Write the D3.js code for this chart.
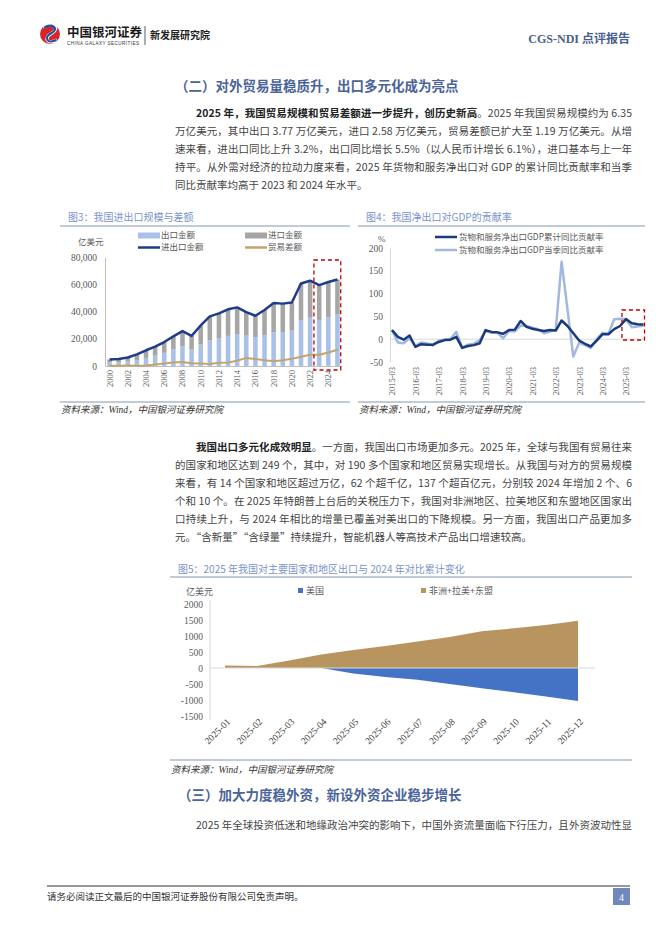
<!DOCTYPE html>
<html><head><meta charset="utf-8">
<script src="https://cdn.jsdelivr.net/npm/d3@7"></script>
<style>
body{margin:0;background:#fff;}
svg{display:block;}
text{font-family:"Liberation Serif","Noto Sans CJK SC",serif;}
</style></head><body>
<svg id="page" width="662" height="936"></svg>
<script>
// ---------- Figure 3 data (亿美元) ----------
const years = ["2000","2001","2002","2003","2004","2005","2006","2007","2008","2009","2010","2011","2012","2013","2014","2015","2016","2017","2018","2019","2020","2021","2022","2023","2024","2025"];
const exportsV = [2492,2661,3256,4382,5933,7620,9689,12200,14307,12016,15778,18984,20487,22090,23423,22735,20976,22633,24867,24995,25900,33630,35445,33800,35772,37700];
const importsV = [2251,2436,2952,4128,5612,6600,7915,9561,11326,10059,13962,17435,18184,19500,19592,16796,15879,18438,21357,20784,20660,26875,27160,25568,25851,25800];
const totalV = [4743,5097,6208,8510,11545,14220,17604,21761,25633,22075,29740,36419,38671,41590,43015,39531,36855,41071,46224,45779,46560,60505,62605,59368,61623,63500];
const balanceV = [241,225,304,254,321,1020,1774,2639,2981,1957,1816,1549,2303,2590,3831,5939,5097,4195,3510,4211,5240,6755,8285,8232,9921,11900];
const yTicks1 = [0,20000,40000,60000,80000];
const xTicks1 = ["2000","2002","2004","2006","2008","2010","2012","2014","2016","2018","2020","2022","2024"];

// ---------- Figure 4 data (%) ----------
const quarters = ["2015-03","2015-06","2015-09","2015-12","2016-03","2016-06","2016-09","2016-12","2017-03","2017-06","2017-09","2017-12","2018-03","2018-06","2018-09","2018-12","2019-03","2019-06","2019-09","2019-12","2020-03","2020-06","2020-09","2020-12","2021-03","2021-06","2021-09","2021-12","2022-03","2022-06","2022-09","2022-12","2023-03","2023-06","2023-09","2023-12","2024-03","2024-06","2024-09","2024-12","2025-03","2025-06","2025-09","2025-12"];
const cumContrib = [20,5,-1,8,-17,-11,-12,-12,-6,-2,-1,5,-19,-15,-13,-9,20,16,15,12,20,21,40,27,23,20,18,20,19,41,29,13,-3,-10,-16,-3,11,11,22,29,44,35,33,32];
const qtrContrib = [20,-7,-9,2,-15,-7,-9,-14,-3,-1,1,16,-18,-12,-10,-2,18,14,15,2,18,17,30,29,25,22,13,17,20,170,66,-38,-8,-13,-19,0,14,12,44,45,44,26,28,30];
const yTicks2 = [-50,0,50,100,150,200];
const xTicks2 = ["2015-03","2016-03","2017-03","2018-03","2019-03","2020-03","2021-03","2022-03","2023-03","2024-03","2025-03"];

// ---------- Figure 5 data (亿美元) ----------
const months = ["2025-01","2025-02","2025-03","2025-04","2025-05","2025-06","2025-07","2025-08","2025-09","2025-10","2025-11","2025-12"];
const usaChange = [0,0,0,0,-175,-285,-370,-500,-630,-760,-890,-1030];
const otherChange = [75,60,235,420,560,690,830,970,1150,1240,1340,1480];
const yTicks5 = [-1500,-1000,-500,0,500,1000,1500,2000];

// ---------- Page ----------
const svg = d3.select("#page");
const CJK = '"Noto Sans CJK SC","Liberation Serif",sans-serif';
const plain = d => String(d);

// header logo
const logo = svg.append("g");
logo.append("circle").attr("cx",50).attr("cy",34).attr("r",10).attr("fill","#d6262c");
logo.append("path").attr("d","M43,27 C52,22 61,28 52,33 C43,38 47,45 57,40").attr("fill","none").attr("stroke","#fff").attr("stroke-width",3.2);
logo.append("path").attr("d","M44,27.5 C52,23 60,28.5 51.5,33 C43,37.5 47,44 56.5,40").attr("fill","none").attr("stroke","#1d4f9e").attr("stroke-width",2);
svg.append("text").attr("x",67).attr("y",37).attr("font-size",12.5).attr("font-weight","bold").attr("fill","#1a1a1a").style("font-family",CJK).text("中国银河证券");
svg.append("text").attr("x",67).attr("y",44.5).attr("font-size",4.6).attr("fill","#333").style("font-family","Liberation Sans").attr("textLength",72).text("CHINA GALAXY SECURITIES");
svg.append("line").attr("x1",145).attr("x2",145).attr("y1",26).attr("y2",45).attr("stroke","#333").attr("stroke-width",0.8);
svg.append("text").attr("x",150).attr("y",39).attr("font-size",10).attr("font-weight","bold").attr("fill","#222").style("font-family",CJK).text("新发展研究院");
svg.append("text").attr("x",630).attr("y",43).attr("text-anchor","end").attr("font-size",12).attr("font-weight","bold").attr("fill","#4a5f8e").text("CGS-NDI 点评报告");

// text helpers
function heading(x, y, t) {
  svg.append("text").attr("x",x).attr("y",y).attr("font-size",13.5).attr("font-weight","bold").attr("fill","#4a6399").style("font-family",CJK).text(t);
}
function textLine(x0, x1, y, parts, justify) {
  const fs = 10.5;
  const nodes = parts.map(p => {
    const t = svg.append("text").attr("y",y).attr("font-size",fs)
      .attr("font-weight", p.b ? "bold" : "normal")
      .attr("fill", p.b ? "#222" : "#444").style("font-family",CJK).text(p.t);
    return {t, w: t.node().getComputedTextLength(), n: [...p.t].length};
  });
  const totalW = d3.sum(nodes, d => d.w), totalN = d3.sum(nodes, d => d.n);
  const ls = justify ? (x1 - x0 - totalW) / (totalN - 1) : 0;
  let x = x0;
  nodes.forEach(d => {
    d.t.attr("x", x).attr("letter-spacing", ls);
    x += d.w + d.n * ls;
  });
}
const L = 175, R = 632, IND = 196;

heading(175, 91, "（二）对外贸易量稳质升，出口多元化成为亮点");
textLine(IND, R, 117, [{t:"2025 年，我国贸易规模和贸易差额进一步提升，创历史新高",b:true},{t:"。2025 年我国贸易规模约为 6.35"}], true);
textLine(L, R, 135, [{t:"万亿美元，其中出口 3.77 万亿美元，进口 2.58 万亿美元，贸易差额已扩大至 1.19 万亿美元。从增"}], true);
textLine(L, R, 153, [{t:"速来看，进出口同比上升 3.2%，出口同比增长 5.5%（以人民币计增长 6.1%），进口基本与上一年"}], true);
textLine(L, R, 171, [{t:"持平。从外需对经济的拉动力度来看，2025 年货物和服务净出口对 GDP 的累计同比贡献率和当季"}], true);
textLine(L, R, 189, [{t:"同比贡献率均高于 2023 和 2024 年水平。"}], false);

textLine(IND, R, 451, [{t:"我国出口多元化成效明显",b:true},{t:"。一方面，我国出口市场更加多元。2025 年，全球与我国有贸易往来"}], true);
textLine(L, R, 469, [{t:"的国家和地区达到 249 个，其中，对 190 多个国家和地区贸易实现增长。从我国与对方的贸易规模"}], true);
textLine(L, R, 487, [{t:"来看，有 14 个国家和地区超过万亿，62 个超千亿，137 个超百亿元，分别较 2024 年增加 2 个、6"}], true);
textLine(L, R, 505, [{t:"个和 10 个。在 2025 年特朗普上台后的关税压力下，我国对非洲地区、拉美地区和东盟地区国家出"}], true);
textLine(L, R, 523, [{t:"口持续上升，与 2024 年相比的增量已覆盖对美出口的下降规模。另一方面，我国出口产品更加多"}], true);
textLine(L, R, 541, [{t:"元。“含新量”“含绿量”持续提升，智能机器人等高技术产品出口增速较高。"}], false);

heading(178, 800, "（三）加大力度稳外资，新设外资企业稳步增长");
textLine(IND, R, 829, [{t:"2025 年全球投资低迷和地缘政治冲突的影响下，中国外资流量面临下行压力，且外资波动性显"}], true);

// footer
svg.append("line").attr("x1",47).attr("x2",630).attr("y1",886).attr("y2",886).attr("stroke","#333").attr("stroke-width",1);
svg.append("text").attr("x",47).attr("y",900).attr("font-size",9.5).attr("fill","#333").style("font-family",CJK).text("请务必阅读正文最后的中国银河证券股份有限公司免责声明。");
svg.append("rect").attr("x",613).attr("y",888).attr("width",17).attr("height",17).attr("fill","#7088bb");
svg.append("text").attr("x",621.5).attr("y",900.5).attr("text-anchor","middle").attr("font-size",10).attr("fill","#fff").text("4");

// chart frame helpers
const TITLE_C = "#7b93c9", RULE_C = "#8497b0", TICK_C = "#595959";
function chartFrame(x0, x1, ty, title, ruleTop, ruleBot, srcY) {
  svg.append("text").attr("x",x0+8).attr("y",ty).attr("font-size",10).attr("fill",TITLE_C).style("font-family",CJK).text(title);
  svg.append("line").attr("x1",x0).attr("x2",x1).attr("y1",ruleTop).attr("y2",ruleTop).attr("stroke",RULE_C).attr("stroke-width",1);
  svg.append("line").attr("x1",x0).attr("x2",x1).attr("y1",ruleBot).attr("y2",ruleBot).attr("stroke",RULE_C).attr("stroke-width",1);
  svg.append("text").attr("x",x0+1).attr("y",srcY).attr("font-size",9.5).attr("font-style","italic").attr("fill","#333").text("资料来源：Wind，中国银河证券研究院");
}
function styleAxis(g) {
  g.select(".domain").attr("stroke","#bfbfbf");
  g.selectAll("text").attr("fill",TICK_C).attr("font-size",9.5).style("font-family",'"Liberation Serif",serif');
}

// ---------- Figure 3 ----------
chartFrame(60, 350, 221, "图3：我国进出口规模与差额", 226, 402, 413);
const x1s = d3.scaleBand().domain(years).range([105, 342]).paddingInner(0.5).paddingOuter(0.25);
const y1s = d3.scaleLinear().domain([0, 80000]).range([366, 257]);
const g1 = svg.append("g");
g1.selectAll("rect.ex").data(years).join("rect").attr("class","ex")
  .attr("x", d => x1s(d)).attr("width", x1s.bandwidth())
  .attr("y", (d,i) => y1s(exportsV[i])).attr("height", (d,i) => y1s(0) - y1s(exportsV[i]))
  .attr("fill","#a9c1e8");
g1.selectAll("rect.im").data(years).join("rect").attr("class","im")
  .attr("x", d => x1s(d)).attr("width", x1s.bandwidth())
  .attr("y", (d,i) => y1s(exportsV[i] + importsV[i])).attr("height", (d,i) => y1s(exportsV[i]) - y1s(exportsV[i] + importsV[i]))
  .attr("fill","#a6a6a6");
const ya1 = g1.append("g").attr("transform","translate(105,0)")
  .call(d3.axisLeft(y1s).tickValues(yTicks1).tickFormat(d3.format(",")).tickSize(0).tickSizeOuter(0).tickPadding(8));
styleAxis(ya1);
const xa1 = g1.append("g").attr("transform","translate(0,366)")
  .call(d3.axisBottom(x1s).tickValues(xTicks1).tickSize(0).tickSizeOuter(0));
styleAxis(xa1);
xa1.selectAll("text").attr("transform","rotate(-90)").attr("text-anchor","end").attr("x",-4).attr("y",0).attr("dy","0.35em").attr("font-size",8.5);
const cx1 = d => x1s(d) + x1s.bandwidth()/2;
g1.append("path").datum(balanceV).attr("fill","none").attr("stroke","#c2a46c").attr("stroke-width",2)
  .attr("d", d3.line().x((d,i) => cx1(years[i])).y(d => y1s(d)));
g1.append("path").datum(totalV).attr("fill","none").attr("stroke","#1f3c88").attr("stroke-width",2.5).attr("stroke-linejoin","round")
  .attr("d", d3.line().x((d,i) => cx1(years[i])).y(d => y1s(d)));
g1.append("rect").attr("x", x1s("2023") - 3).attr("y",260).attr("width", x1s("2025") + x1s.bandwidth() + 4 - x1s("2023")).attr("height",110)
  .attr("fill","none").attr("stroke","#c00000").attr("stroke-width",1.3).attr("stroke-dasharray","4,3");
// legend
g1.append("text").attr("x",78).attr("y",245).attr("font-size",8.5).attr("fill",TICK_C).style("font-family",CJK).text("亿美元");
const lg1 = [
  {x:138, y:235.5, t:"出口金额", type:"rect", c:"#a9c1e8"},
  {x:245, y:235.5, t:"进口金额", type:"rect", c:"#a6a6a6"},
  {x:138, y:247.5, t:"进出口金额", type:"line", c:"#1f3c88"},
  {x:245, y:247.5, t:"贸易差额", type:"line", c:"#c2a46c"}
];
lg1.forEach(d => {
  if (d.type === "rect") g1.append("rect").attr("x",d.x).attr("y",d.y-3).attr("width",22).attr("height",6).attr("fill",d.c);
  else g1.append("line").attr("x1",d.x).attr("x2",d.x+22).attr("y1",d.y).attr("y2",d.y).attr("stroke",d.c).attr("stroke-width",2.5);
  g1.append("text").attr("x",d.x+23).attr("y",d.y).attr("dy","0.35em").attr("font-size",8.5).attr("fill",TICK_C).style("font-family",CJK).text(d.t);
});

// ---------- Figure 4 ----------
chartFrame(358, 645, 221, "图4：我国净出口对GDP的贡献率", 226, 402, 413);
const x2s = d3.scalePoint().domain(quarters).range([392, 643.5]);
const y2s = d3.scaleLinear().domain([-50, 200]).range([362, 248]);
const g2 = svg.append("g");
const ya2 = g2.append("g").attr("transform","translate(390,0)")
  .call(d3.axisLeft(y2s).tickValues(yTicks2).tickFormat(plain).tickSize(0).tickSizeOuter(0).tickPadding(7));
styleAxis(ya2);
ya2.select(".domain").attr("stroke","#d9d9d9");
g2.append("line").attr("x1",390).attr("x2",645).attr("y1",y2s(0)).attr("y2",y2s(0)).attr("stroke","#d9d9d9").attr("stroke-width",1);
const xa2 = g2.append("g").attr("transform","translate(0,364)")
  .call(d3.axisBottom(x2s).tickValues(xTicks2).tickSize(0).tickSizeOuter(0));
xa2.select(".domain").remove();
styleAxis(xa2);
xa2.selectAll("text").attr("transform","rotate(-90)").attr("text-anchor","end").attr("x",-3).attr("y",0).attr("dy","0.35em").attr("font-size",8.5);
const line2 = d3.line().x((d,i) => x2s(quarters[i])).y(d => y2s(d));
g2.append("path").datum(qtrContrib).attr("fill","none").attr("stroke","#a3b8e0").attr("stroke-width",2.5).attr("stroke-linejoin","round").attr("d", line2);
g2.append("path").datum(cumContrib).attr("fill","none").attr("stroke","#1a3a7c").attr("stroke-width",2.5).attr("stroke-linejoin","round").attr("d", line2);
g2.append("rect").attr("x", x2s("2025-03") - 4).attr("y",310).attr("width", x2s("2025-12") - x2s("2025-03") + 5).attr("height",30)
  .attr("fill","none").attr("stroke","#c00000").attr("stroke-width",1.3).attr("stroke-dasharray","4,3");
g2.append("text").attr("x",378).attr("y",242).attr("font-size",9).attr("fill",TICK_C).text("%");
[{y:237, c:"#1a3a7c", t:"货物和服务净出口GDP累计同比贡献率"},{y:250, c:"#a3b8e0", t:"货物和服务净出口GDP当季同比贡献率"}].forEach(d => {
  g2.append("line").attr("x1",435).attr("x2",457).attr("y1",d.y).attr("y2",d.y).attr("stroke",d.c).attr("stroke-width",2.5);
  g2.append("text").attr("x",459).attr("y",d.y).attr("dy","0.35em").attr("font-size",8.5).attr("fill",TICK_C).style("font-family",CJK).text(d.t);
});

// ---------- Figure 5 ----------
chartFrame(170, 632, 573, "图5：2025 年我国对主要国家和地区出口与 2024 年对比累计变化", 577, 760, 773);
const x5s = d3.scalePoint().domain(months).range([225, 578]);
const y5s = d3.scaleLinear().domain([-1500, 2000]).range([716, 604]);
const g5 = svg.append("g");
const area5 = d3.area().x((d,i) => x5s(months[i])).y0(y5s(0)).y1(d => y5s(d));
g5.append("path").datum(usaChange).attr("fill","#4472c4").attr("d", area5);
g5.append("path").datum(otherChange).attr("fill","#b8955e").attr("d", area5);
g5.append("line").attr("x1",210).attr("x2",595).attr("y1",y5s(0)).attr("y2",y5s(0)).attr("stroke","#d9d9d9").attr("stroke-width",1);
const ya5 = g5.append("g").attr("transform","translate(210,0)")
  .call(d3.axisLeft(y5s).tickValues(yTicks5).tickFormat(plain).tickSize(0).tickSizeOuter(0).tickPadding(7));
styleAxis(ya5);
ya5.select(".domain").attr("stroke","#d9d9d9").attr("d","M0,600V720");
const xa5 = g5.append("g").attr("transform","translate(0,720)")
  .call(d3.axisBottom(x5s).tickSize(0).tickSizeOuter(0));
xa5.select(".domain").remove();
styleAxis(xa5);
xa5.selectAll("text").attr("transform","translate(3,0) rotate(-45)").attr("text-anchor","end").attr("x",0).attr("y",0).attr("dy","0.35em").attr("font-size",9.5).attr("fill","#404040");
g5.append("text").attr("x",186).attr("y",595).attr("font-size",9).attr("fill",TICK_C).style("font-family",CJK).text("亿美元");
[{x:298, c:"#4472c4", t:"美国"},{x:421, c:"#b8955e", t:"非洲+拉美+东盟"}].forEach(d => {
  g5.append("rect").attr("x",d.x).attr("y",588).attr("width",5).attr("height",5).attr("fill",d.c);
  g5.append("text").attr("x",d.x+8).attr("y",594).attr("font-size",9).attr("fill",TICK_C).style("font-family",CJK).text(d.t);
});
</script>
</body></html>
